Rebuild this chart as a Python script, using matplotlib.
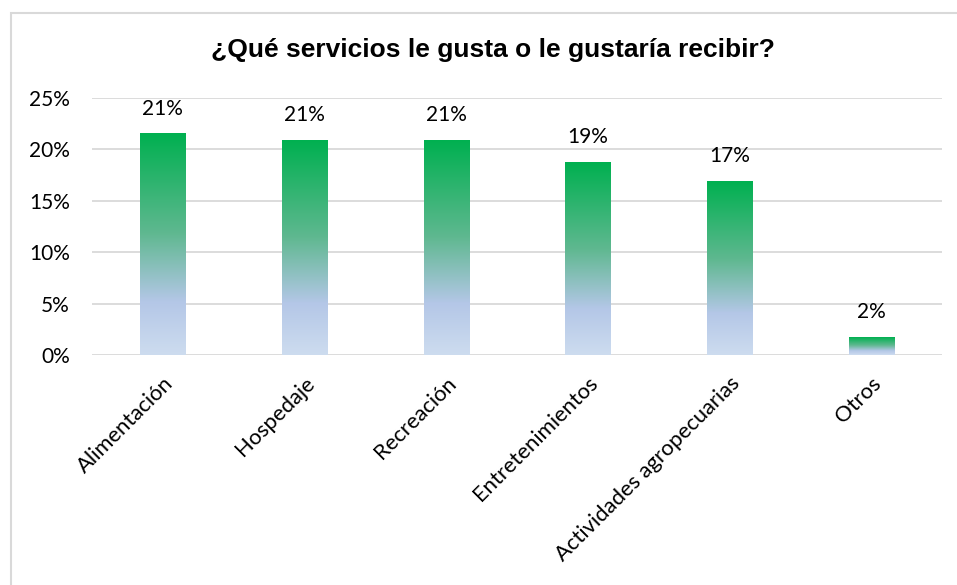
import matplotlib.pyplot as plt
import numpy as np
from matplotlib.colors import LinearSegmentedColormap
from matplotlib.patches import Rectangle
from matplotlib.ticker import FuncFormatter

categories = ["Alimentación", "Hospedaje", "Recreación", "Entretenimientos",
              "Actividades agropecuarias", "Otros"]
values = [21.5, 20.9, 20.9, 18.7, 16.9, 1.7]
labels = ["21%", "21%", "21%", "19%", "17%", "2%"]
title = "¿Qué servicios le gusta o le gustaría recibir?"

label_font = "Lato"
fs = 15

fig = plt.figure(figsize=(9.57, 5.85), dpi=100)
ax = fig.add_axes([92 / 957, 1 - 355 / 585, 850 / 957, 257 / 585])

# chart frame (light grey border, open at right and bottom like the crop)
fig.patches.append(Rectangle((11 / 957, -0.1), 1.2, 1 - 13 / 585 + 0.1,
                             transform=fig.transFigure, fill=False,
                             edgecolor="#d9d9d9", lw=1.5))

# gradient: green at top -> blue-grey -> pale at bottom
cmap = LinearSegmentedColormap.from_list(
    "grad", [(0.0, "#cddcef"), (0.24, "#b4c7e7"), (0.55, "#5fb890"), (1.0, "#00b050")])
grad = np.linspace(0, 1, 256).reshape(-1, 1)

x = np.arange(len(categories))
width = 0.32
for xi, v, lab in zip(x, values, labels):
    ax.imshow(grad, cmap=cmap, origin="lower", aspect="auto",
              extent=(xi - width / 2, xi + width / 2, 0, v), zorder=3)
    ax.text(xi, v + 1.5, lab, ha="center", va="bottom", fontsize=fs,
            family=label_font, color="#000000")

ax.set_xlim(-0.5, len(categories) - 0.5)
ax.set_ylim(0, 25)
ax.set_yticks(np.arange(0, 26, 5))
ax.yaxis.set_major_formatter(FuncFormatter(lambda v, p: f"{v:.0f}%"))
ax.grid(axis="y", color="#d9d9d9", lw=1.3, zorder=0)
ax.set_axisbelow(True)
for s in ax.spines.values():
    s.set_visible(False)
ax.tick_params(axis="y", length=0, pad=16)
ax.tick_params(axis="x", length=0, pad=13)
ax.set_xticks(x)
ax.set_xticklabels(categories, rotation=45, ha="right", rotation_mode="anchor",
                   fontsize=15.8, family=label_font)
for t in ax.get_yticklabels():
    t.set_fontsize(fs)
    t.set_family(label_font)

fig.text(493 / 957, 1 - 50 / 585, title, ha="center", va="center",
         fontsize=19, fontweight="bold", family="Liberation Sans")

fig.savefig("out.png", dpi=100)
